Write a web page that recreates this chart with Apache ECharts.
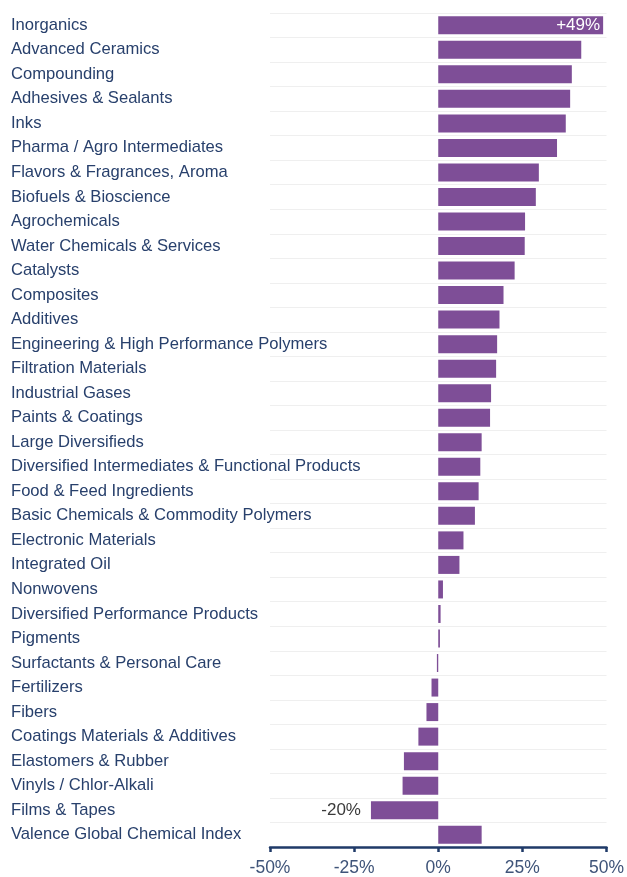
<!DOCTYPE html>
<html>
<head>
<meta charset="utf-8">
<style>
  html, body { margin: 0; padding: 0; background: #ffffff; }
  #chart { width: 627px; height: 877px; }
</style>
<script src="https://cdn.jsdelivr.net/npm/echarts@6/dist/echarts.min.js"></script>
</head>
<body>
<div id="chart"></div>
<script>
// Segment names, top to bottom
const categories = [
  'Inorganics',
  'Advanced Ceramics',
  'Compounding',
  'Adhesives & Sealants',
  'Inks',
  'Pharma / Agro Intermediates',
  'Flavors & Fragrances, Aroma',
  'Biofuels & Bioscience',
  'Agrochemicals',
  'Water Chemicals & Services',
  'Catalysts',
  'Composites',
  'Additives',
  'Engineering & High Performance Polymers',
  'Filtration Materials',
  'Industrial Gases',
  'Paints & Coatings',
  'Large Diversifieds',
  'Diversified Intermediates & Functional Products',
  'Food & Feed Ingredients',
  'Basic Chemicals & Commodity Polymers',
  'Electronic Materials',
  'Integrated Oil',
  'Nonwovens',
  'Diversified Performance Products',
  'Pigments',
  'Surfactants & Personal Care',
  'Fertilizers',
  'Fibers',
  'Coatings Materials & Additives',
  'Elastomers & Rubber',
  'Vinyls / Chlor-Alkali',
  'Films & Tapes',
  'Valence Global Chemical Index'
];

// Performance per segment, in percent
const changes = [
  49, 42.5, 39.7, 39.2, 37.9, 35.3, 29.9, 29.0, 25.8, 25.7,
  22.7, 19.4, 18.2, 17.5, 17.2, 15.7, 15.4, 12.9, 12.5, 12.0,
  10.9, 7.5, 6.3, 1.4, 0.7, 0.5, -0.4, -2.0, -3.5, -5.9,
  -10.2, -10.6, -20, 12.9
];

// Segments whose value is printed next to the bar
const labelled = ['Inorganics', 'Films & Tapes'];

// Value-axis tick values
const xTicks = [-50, -25, 0, 25, 50];

const navy = '#28406c';
const purple = '#7e4e97';
const fontFamily = '"Liberation Sans", Arial, sans-serif';

const fmtPct = v => (v > 0 ? '+' : '') + v + '%';

const seriesData = categories.map((name, i) => {
  const v = changes[i];
  const item = { value: v };
  if (labelled.includes(name)) {
    item.label = v >= 0
      ? { show: true, position: 'insideRight', distance: 3, color: '#ffffff',
          fontSize: 17, fontFamily: fontFamily, formatter: p => fmtPct(p.value) }
      : { show: true, position: 'left', distance: 10, color: '#3a3a3a',
          fontSize: 17, fontFamily: fontFamily, formatter: p => fmtPct(p.value) };
  }
  return item;
});

const chart = echarts.init(document.getElementById('chart'), null, { renderer: 'canvas' });

chart.setOption({
  animation: false,
  backgroundColor: '#ffffff',
  grid: { left: 270, right: 20, top: 13, bottom: 29, containLabel: false },
  xAxis: {
    type: 'value',
    min: xTicks[0],
    max: xTicks[xTicks.length - 1],
    interval: 25,
    axisLine: { show: true, onZero: false, lineStyle: { color: '#1f3a68', width: 2.5 } },
    axisTick: { show: true, length: 5, lineStyle: { color: '#1f3a68', width: 2.5 } },
    splitLine: { show: false },
    axisLabel: {
      color: '#3f5479', fontSize: 17.5, fontFamily: fontFamily, margin: 12,
      formatter: v => v + '%'
    }
  },
  yAxis: {
    type: 'category',
    data: categories,
    inverse: true,
    axisLine: { show: false },
    axisTick: { show: false },
    splitLine: { show: true, lineStyle: { color: '#efefef', width: 1 } },
    axisLabel: {
      color: navy, fontSize: 16.6, fontFamily: fontFamily,
      align: 'left', margin: 259, interval: 0
    }
  },
  series: [{
    type: 'bar',
    data: seriesData,
    barWidth: 18,
    itemStyle: { color: purple }
  }]
});
</script>
</body>
</html>
